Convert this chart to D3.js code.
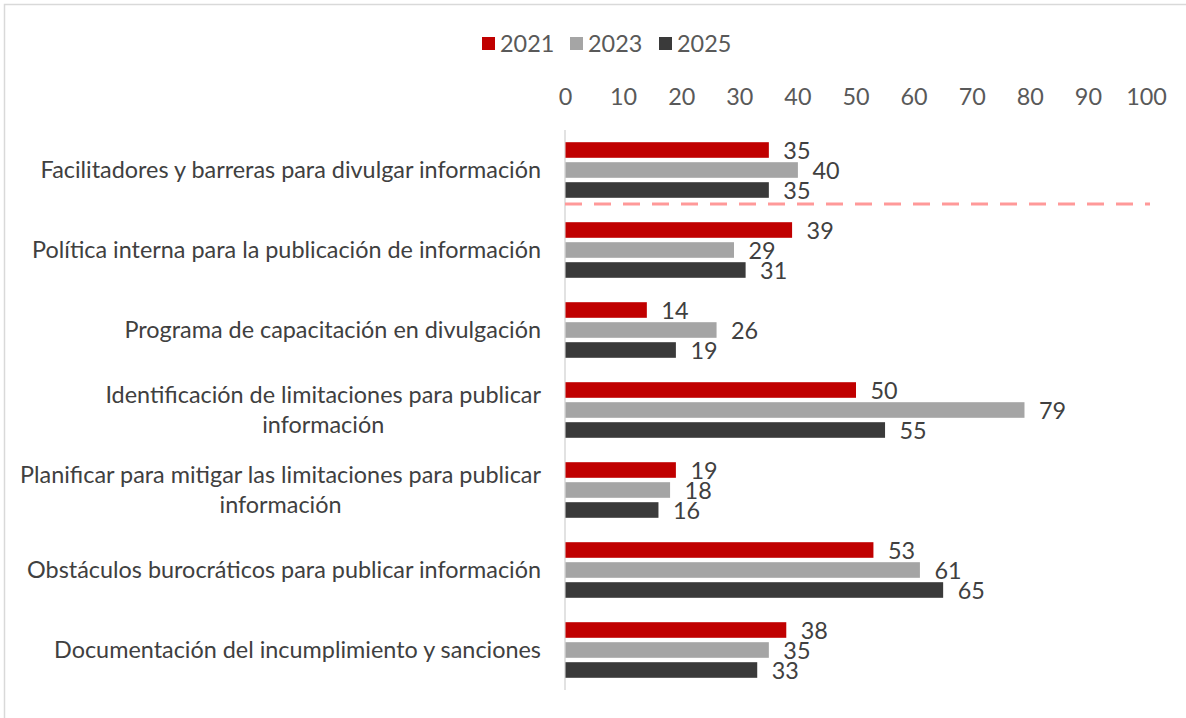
<!DOCTYPE html>
<html><head><meta charset="utf-8">
<script src="https://cdn.jsdelivr.net/npm/d3@7"></script>
<style>body{margin:0;background:#fff}svg{display:block}</style>
</head><body>
<svg id="c" width="1186" height="718"></svg>
<script>
const categories = [
  ["Facilitadores y barreras para divulgar información"],
  ["Política interna para la publicación de información"],
  ["Programa de capacitación en divulgación"],
  ["Identificación de limitaciones para publicar", "información"],
  ["Planificar para mitigar las limitaciones para publicar", "información"],
  ["Obstáculos burocráticos para publicar información"],
  ["Documentación del incumplimiento y sanciones"]
];
const seriesNames = ["2021", "2023", "2025"];
const v2021 = [35, 39, 14, 50, 19, 53, 38];
const v2023 = [40, 29, 26, 79, 18, 61, 35];
const v2025 = [35, 31, 19, 55, 16, 65, 33];
const ticks = [0,10,20,30,40,50,60,70,80,90,100];
const colors = ["#c00000", "#a5a5a5", "#3a3a3a"];
const values = [v2021, v2023, v2025];

const font = "Lato, 'Open Sans', sans-serif";
const fs = 23.4;
const svg = d3.select("#c");

// outer border (left/top visible)
svg.append("path").attr("d","M4.5,718 V4.5 H1186").attr("fill","none").attr("stroke","#d9d9d9").attr("stroke-width",1.5);

const x = d3.scaleLinear().domain([0,100]).range([565,1146]);
const y0 = d3.scaleBand().domain(d3.range(categories.length)).range([130,690]);
const y1 = d3.scaleBand().domain(d3.range(3)).range([y0.bandwidth()/2-30, y0.bandwidth()/2+30]).paddingInner(0.22).paddingOuter(0.11);

// top axis
const ax = svg.append("g").attr("transform","translate(0,111)")
  .call(d3.axisTop(x).tickValues(ticks).tickSize(0).tickPadding(6).tickFormat(d3.format("d")));
ax.select(".domain").remove();
ax.selectAll("text").attr("font-family",font).attr("font-size",fs).attr("fill","#595959");

// vertical axis line
svg.append("line").attr("x1",x(0)).attr("x2",x(0)).attr("y1",y0.range()[0]).attr("y2",y0.range()[1])
  .attr("stroke","#d9d9d9").attr("stroke-width",1.5);

const g = svg.append("g");
categories.forEach((cat,i)=>{
  const gy = y0(i);
  values.forEach((vals,s)=>{
    g.append("rect").attr("x",x(0)+0.5).attr("y",gy+y1(s)).attr("width",x(vals[i])-x(0)).attr("height",y1.bandwidth())
      .attr("fill",colors[s]);
    g.append("text").attr("x",x(vals[i])+15).attr("y",gy+y1(s)+y1.bandwidth()/2+1).attr("dy","0.36em")
      .attr("font-family",font).attr("font-size",fs).attr("fill","#404040").text(vals[i]);
  });
  // category label
  const cy = gy + y0.bandwidth()/2;
  const lh = 30;
  const t = svg.append("g");
  const texts = cat.map((line,k)=> t.append("text").attr("font-family",font).attr("font-size",fs).attr("fill","#404040")
      .attr("text-anchor","middle").attr("y", cy + (k - (cat.length-1)/2)*lh).attr("dy","0.36em").text(line));
  const maxW = d3.max(texts, tx=>tx.node().getComputedTextLength());
  texts.forEach(tx=>tx.attr("x", 541 - maxW/2));
});

// dashed separator
svg.append("line").attr("x1",x(0)).attr("x2",x(100)+4).attr("y1",y0(1)-6).attr("y2",y0(1)-6)
  .attr("stroke","#ff9999").attr("stroke-width",3).attr("stroke-dasharray","17,12");

// legend
const lg = svg.append("g");
const legX = [482, 570, 659];
seriesNames.forEach((n,s)=>{
  lg.append("rect").attr("x",legX[s]).attr("y",37).attr("width",13).attr("height",13).attr("fill",colors[s]);
  lg.append("text").attr("x",legX[s]+18).attr("y",44).attr("dy","0.36em").attr("font-family",font)
    .attr("font-size",fs).attr("fill","#595959").text(n);
});
</script>
</body></html>
